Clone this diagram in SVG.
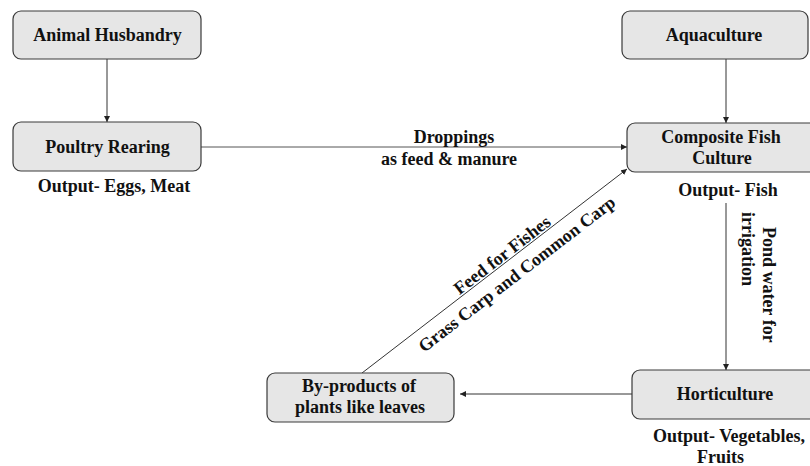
<svg xmlns="http://www.w3.org/2000/svg" width="810" height="466" viewBox="0 0 810 466">
<defs>
<style>
.box{fill:#e6e6e6;stroke:#3a3a3a;stroke-width:1.2}
text{font-family:"Liberation Serif","Times New Roman",serif;font-weight:bold;font-size:18px;fill:#111}
.c{text-anchor:middle}
.ln{stroke:#333;stroke-width:1;fill:none;marker-end:url(#ah)}
</style>
<marker id="ah" viewBox="0 0 10 10" refX="10" refY="5" markerWidth="6" markerHeight="6" markerUnits="userSpaceOnUse" orient="auto">
<path d="M0,0 L10,5 L0,10 z" fill="#222"/>
</marker>
</defs>
<rect width="810" height="466" fill="#fff"/>
<g id="connectors">
<line class="ln" x1="107" y1="59" x2="107" y2="122"/>
<line class="ln" x1="726" y1="59" x2="726" y2="123"/>
<line class="ln" x1="201" y1="147" x2="627" y2="147" style="stroke:#555"/>
<line class="ln" x1="362" y1="373" x2="627" y2="169"/>
<line class="ln" x1="726" y1="203" x2="726" y2="370"/>
<line class="ln" x1="632" y1="394" x2="460" y2="394"/>
</g>
<g id="labels">
<text class="c" x="454" y="143">Droppings</text>
<text class="c" x="449" y="165">as feed &amp; manure</text>
<g transform="translate(362,373) rotate(-37.6)">
<text class="c" x="183" y="-2">Feed for Fishes</text>
<text class="c" x="183" y="22">Grass Carp and Common Carp</text>
</g>
<text transform="translate(763,227) rotate(90)">Pond water for</text>
<text transform="translate(742,212) rotate(90)">irrigation</text>
</g>
<g id="animal-husbandry">
<rect class="box" x="13" y="11" width="188" height="48" rx="8"/>
<text class="c" x="107.5" y="41">Animal Husbandry</text>
</g>
<g id="poultry-rearing">
<rect class="box" x="13" y="122" width="188" height="49" rx="8"/>
<text class="c" x="107.5" y="153">Poultry Rearing</text>
<text class="c" x="114" y="192">Output- Eggs, Meat</text>
</g>
<g id="aquaculture">
<rect class="box" x="622" y="11" width="186" height="48" rx="8"/>
<text class="c" x="714" y="41">Aquaculture</text>
</g>
<g id="composite-fish-culture">
<rect class="box" x="627" y="123" width="195" height="49" rx="8"/>
<text class="c" x="721" y="143">Composite Fish</text>
<text class="c" x="722" y="164">Culture</text>
<text class="c" x="728" y="196">Output- Fish</text>
</g>
<g id="horticulture">
<rect class="box" x="632" y="370" width="195" height="49" rx="8"/>
<text class="c" x="725" y="400">Horticulture</text>
<text x="653" y="442">Output- Vegetables,</text>
<text x="697" y="463">Fruits</text>
</g>
<g id="by-products">
<rect class="box" x="267" y="373" width="187" height="49" rx="8"/>
<text class="c" x="359" y="392">By-products of</text>
<text class="c" x="360" y="413">plants like leaves</text>
</g>
</svg>
